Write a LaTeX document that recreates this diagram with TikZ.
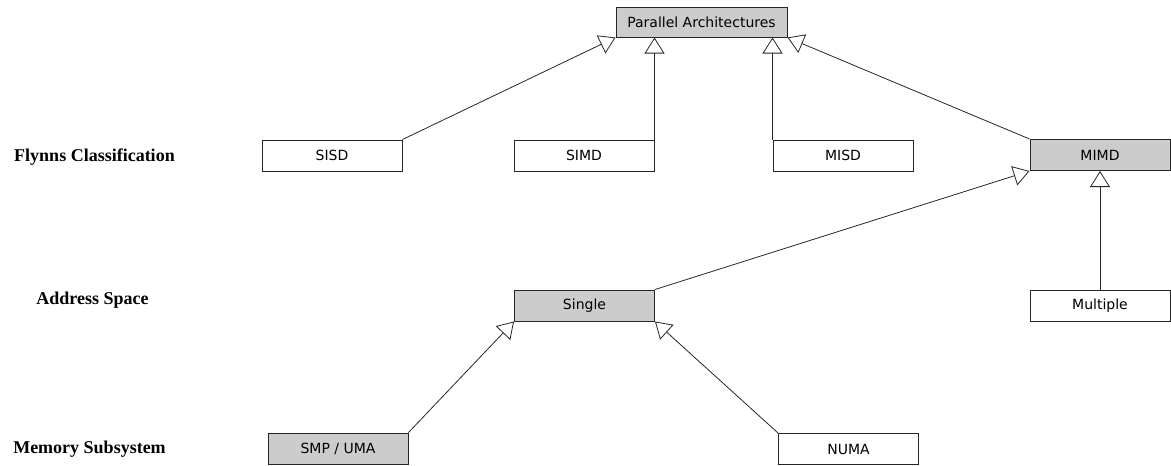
\documentclass[tikz,border=0pt]{standalone}
\usepackage{fontspec}
\setmainfont{Liberation Serif}
\newfontfamily\boxfont{DejaVu Sans}
\usetikzlibrary{arrows.meta,positioning}
\definecolor{boxgray}{RGB}{204,204,204}
\tikzstyle{cls}=[rectangle, draw=black!85, line width=1pt, minimum width=140pt, minimum height=31pt, inner sep=0pt, font=\boxfont\fontsize{14}{16}\selectfont]
\tikzstyle{abs}=[cls, fill=boxgray]
\tikzstyle{lab}=[font=\bfseries\fontsize{18}{20}\selectfont]
\tikzstyle{gen}=[draw=black!85, line width=0.8pt, -{Triangle[open, length=16pt, width=20pt]}]

\begin{document}
\begin{tikzpicture}[x=1pt, y=-1pt]
      \useasboundingbox (0,0) rectangle (1171,466);
      % row labels
      \node[lab] (flynn) at (94.5,157) {Flynns Classification};
      \node[lab] (addr) at (92.5,300) {Address Space};
      \node[lab] (mem) at (89.5,449) {Memory Subsystem};
      % classes
      \node[abs, minimum width=171pt, minimum height=30pt] (pa) at (701.5,22) {Parallel Architectures};
      \node[cls] (sisd) at (332,155.5) {SISD};
      \node[cls] (simd) at (584,155.5) {SIMD};
      \node[cls] (misd) at (843,155.5) {MISD};
      \node[abs] (mimd) at (1100,155) {MIMD};
      \node[abs] (single) at (584.5,305.5) {Single};
      \node[cls] (multiple) at (1100,306) {Multiple};
      \node[abs] (smp) at (338,448.5) {SMP / UMA};
      \node[cls] (numa) at (848.5,449) {NUMA};
      % generalisations
      \draw[gen] (sisd.north east) -- (pa.south west);
      \draw[gen] (simd.north east) -- (simd.north east |- pa.south);
      \draw[gen] (misd.north west) -- (misd.north west |- pa.south);
      \draw[gen] (mimd.north west) -- (pa.south east);
      \draw[gen] (single.north east) -- (mimd.south west);
      \draw[gen] (multiple.north) -- (mimd.south);
      \draw[gen] (smp.north east) -- (single.south west);
      \draw[gen] (numa.north west) -- (single.south east);
      %
\end{tikzpicture}
\end{document}
